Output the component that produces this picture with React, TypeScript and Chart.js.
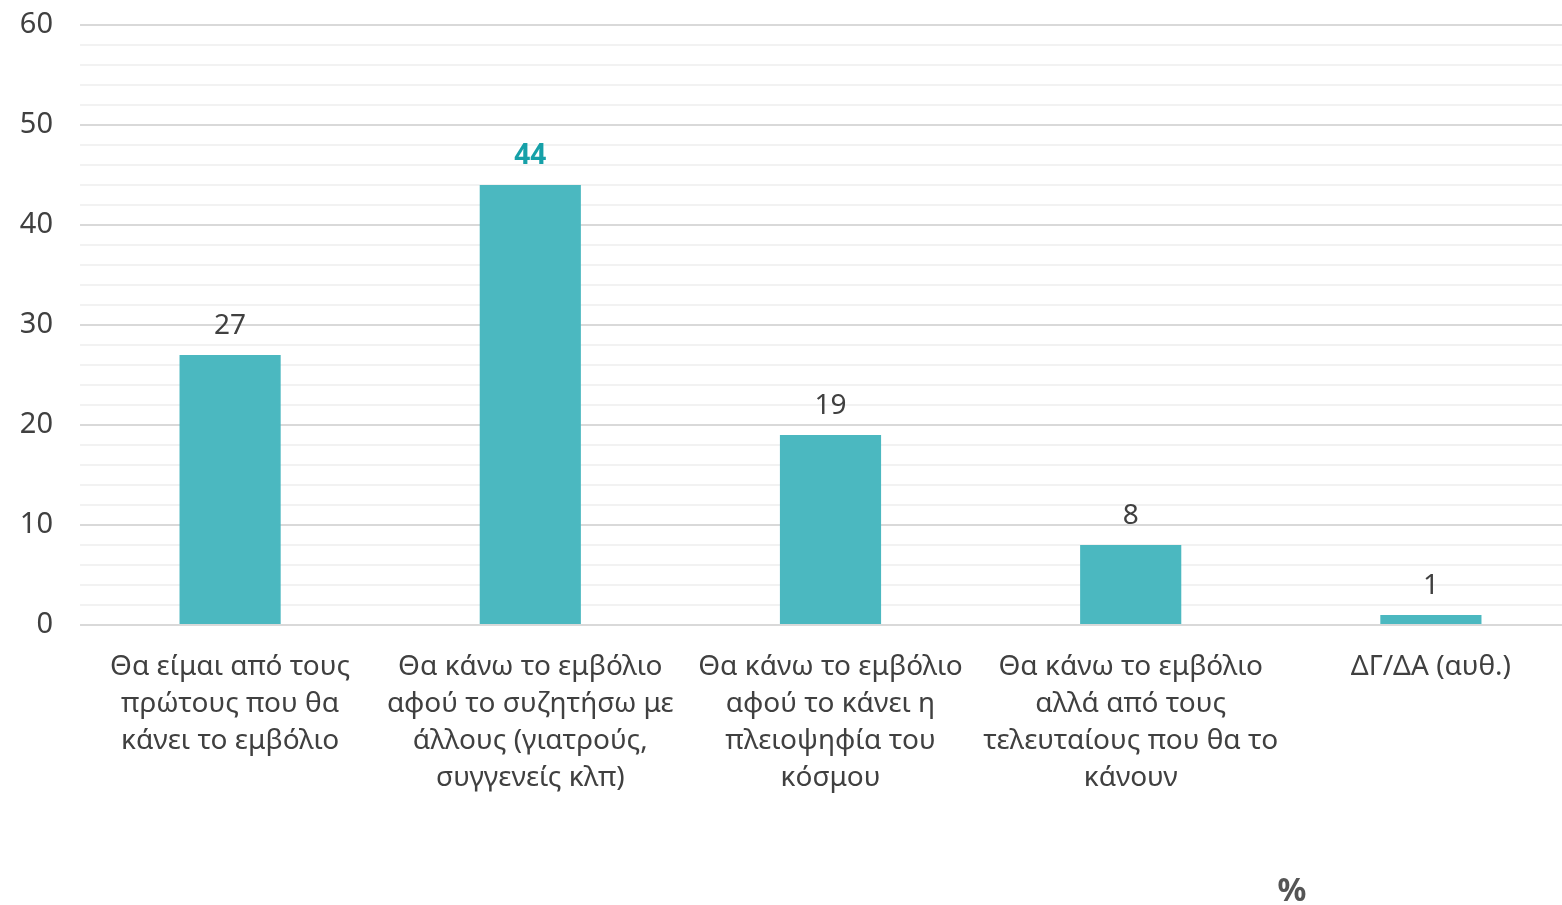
import React, { useEffect, useRef } from "react";
import { Chart, registerables } from "chart.js";

Chart.register(...registerables);

const categories: string[][] = [
  ["Θα είμαι από τους", "πρώτους που θα", "κάνει το εμβόλιο"],
  ["Θα κάνω το εμβόλιο", "αφού το συζητήσω με", "άλλους (γιατρούς,", "συγγενείς κλπ)"],
  ["Θα κάνω το εμβόλιο", "αφού το κάνει η", "πλειοψηφία του", "κόσμου"],
  ["Θα κάνω το εμβόλιο", "αλλά από τους", "τελευταίους που θα το", "κάνουν"],
  ["ΔΓ/ΔΑ (αυθ.)"],
];
const values: number[] = [27, 44, 19, 8, 1];
const highlightIndex = 1;
const unitLabel = "%";

const FONT = "'Noto Sans', sans-serif";
const BAR = "#4bb8c0";
const TEXT = "#404040";
const HIGHLIGHT = "#16a0a8";

export default function App() {
  const ref = useRef<HTMLCanvasElement>(null);
  useEffect(() => {
    if (!ref.current) return;
    const labelPlugin = {
      id: "valueLabels",
      afterDatasetsDraw(chart: any) {
        const ctx = chart.ctx;
        const meta = chart.getDatasetMeta(0);
        ctx.save();
        ctx.textAlign = "center";
        ctx.textBaseline = "alphabetic";
        meta.data.forEach((bar: any, i: number) => {
          const hi = i === highlightIndex;
          ctx.font = `${hi ? "bold " : ""}28px ${FONT}`;
          ctx.fillStyle = hi ? HIGHLIGHT : TEXT;
          ctx.fillText(String(values[i]), bar.x, bar.y - 21);
        });
        ctx.font = `bold 32px ${FONT}`;
        ctx.fillStyle = "#555555";
        ctx.fillText(unitLabel, 1292, 901);
        ctx.restore();
      },
    };
    const chart = new Chart(ref.current, {
      type: "bar",
      data: {
        labels: categories,
        datasets: [
          {
            data: values,
            backgroundColor: BAR,
            categoryPercentage: 1,
            barPercentage: 0.337,
          },
        ],
      },
      options: {
        animation: false,
        responsive: false,
        maintainAspectRatio: false,
        layout: { padding: { top: 25, right: 1, left: 0, bottom: 0 } },
        plugins: { legend: { display: false }, tooltip: { enabled: false } },
        scales: {
          x: {
            grid: { display: false, drawTicks: false },
            border: { display: false },
            ticks: {
              font: { family: FONT, size: 28, lineHeight: 1.33 },
              color: TEXT,
              padding: 23,
              maxRotation: 0,
              autoSkip: false,
            },
            afterFit(scale: any) {
              scale.height = 280;
            },
          },
          y: {
            min: 0,
            max: 60,
            ticks: {
              stepSize: 2,
              autoSkip: false,
              font: { family: FONT, size: 29, lineHeight: 1 },
              color: TEXT,
              padding: 27,
              callback: (v: any) => (Number(v) % 10 === 0 ? String(v) : ""),
            },
            grid: {
              drawTicks: false,
              lineWidth: 2,
              color: (c: any) =>
                c.tick && c.tick.value % 10 === 0 ? "#d9d9d9" : "#f2f2f2",
            },
            border: { display: false },
            afterFit(scale: any) {
              scale.width = 80;
              scale.paddingTop = 0;
              scale.paddingBottom = 0;
            },
          },
        },
      },
      plugins: [labelPlugin],
    });
    return () => chart.destroy();
  }, []);
  return (
    <div style={{ position: "fixed", left: 0, top: 0, width: 1562, height: 905, overflow: "hidden", background: "#fff" }}>
      <canvas ref={ref} width={1582} height={905} />
    </div>
  );
}
